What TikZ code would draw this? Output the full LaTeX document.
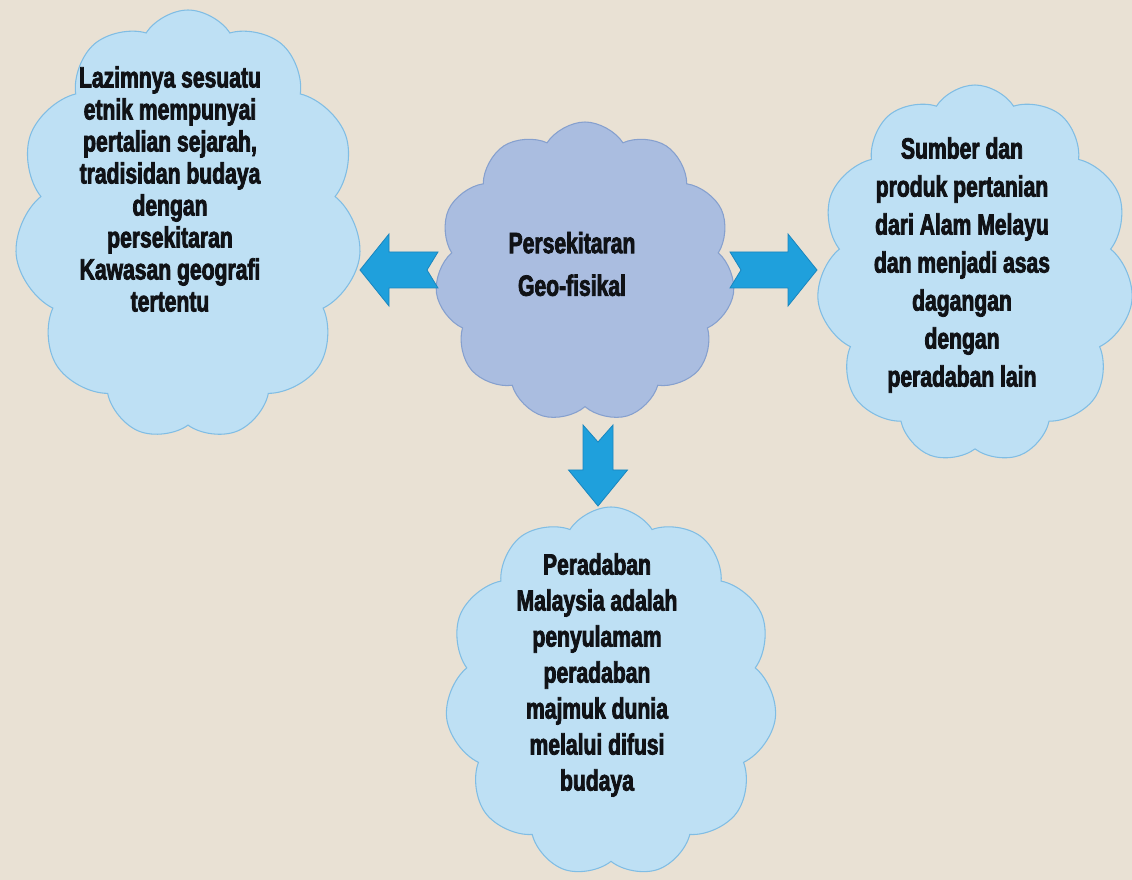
\documentclass[tikz,border=0pt]{standalone}
\usepackage{fontspec}
\usetikzlibrary{shapes.symbols,calc}
\newfontfamily\cf{Liberation Sans Bold}[FakeStretch=0.72,FakeBold=2.6]
\definecolor{bgc}{HTML}{E9E1D4}
\definecolor{cloudfill}{HTML}{BEE0F4}
\definecolor{cloudline}{HTML}{80BDE4}
\definecolor{midfill}{HTML}{AABDE0}
\definecolor{midline}{HTML}{86A0CE}
\definecolor{arrfill}{HTML}{1FA0DC}
\definecolor{arrline}{HTML}{1A86BE}
\definecolor{txt}{HTML}{101216}
\tikzset{
  cloudbox/.style={cloud, cloud puffs=11, cloud puff arc=115, draw=cloudline, fill=cloudfill, line width=0.8pt, inner sep=0pt},
  midcloud/.style={cloudbox, draw=midline, fill=midfill},
  cloudtext/.style={align=center, text=txt, font=\cf\fontsize{22}{24}\selectfont, inner sep=0pt},
  blockarr/.style={fill=arrfill, draw=arrline, line width=0.6pt, line join=miter},
}
% #1 tail, #2 angle, #3 length, #4 shaft half, #5 head half, #6 head length, #7 notch
\newcommand\blockarrow[7]{%
  \begin{scope}[shift={(#1)}, rotate=#2]
    \draw[blockarr] (0,#4) -- ({#3-#6},#4) -- ({#3-#6},#5) -- (#3,0) -- ({#3-#6},-#5) -- ({#3-#6},-#4) -- (0,-#4) -- (#7,0) -- cycle;
  \end{scope}}
\begin{document}
\begin{tikzpicture}[x=0.75pt,y=0.75pt]
\fill[bgc] (0,0) rectangle (1132,-880);
\useasboundingbox (0,0) rectangle (1132,-880);

% clouds
\node[cloudbox, minimum width=347*0.75pt, minimum height=430*0.75pt] (lc) at (188,-225) {};
\node[cloudbox, minimum width=317*0.75pt, minimum height=378*0.75pt] (rc) at (975,-274) {};
\node[cloudbox, minimum width=332*0.75pt, minimum height=370*0.75pt] (bc) at (611,-692) {};
\node[midcloud, minimum width=300*0.75pt, minimum height=300*0.75pt] (mc) at (585,-272) {};

% arrows
\coordinate (latail) at (438,-270);
\coordinate (ratail) at (730,-270);
\coordinate (datail) at (598,-425);
\blockarrow{latail}{180}{78}{18}{36}{29}{11}
\blockarrow{ratail}{0}{87}{18}{36}{29}{11}
\blockarrow{datail}{-90}{81}{15}{29.5}{36}{17}

% texts
\node[cloudtext] (lt) at (170,-189) {Lazimnya sesuatu\\etnik mempunyai\\pertalian sejarah,\\tradisidan budaya\\dengan\\persekitaran\\Kawasan geografi\\tertentu};
\node[cloudtext, font=\cf\fontsize{22}{32}\selectfont] (mt) at (572,-264) {Persekitaran\\Geo-fisikal};
\node[cloudtext, font=\cf\fontsize{22}{28.5}\selectfont] (rt) at (962,-265) {Sumber dan\\produk pertanian\\dari Alam Melayu\\dan menjadi asas\\dagangan\\dengan\\peradaban lain};
\node[cloudtext, font=\cf\fontsize{22}{27}\selectfont] (bt) at (597,-675) {Peradaban\\Malaysia adalah\\penyulamam\\peradaban\\majmuk dunia\\melalui difusi\\budaya};
\end{tikzpicture}
\end{document}
